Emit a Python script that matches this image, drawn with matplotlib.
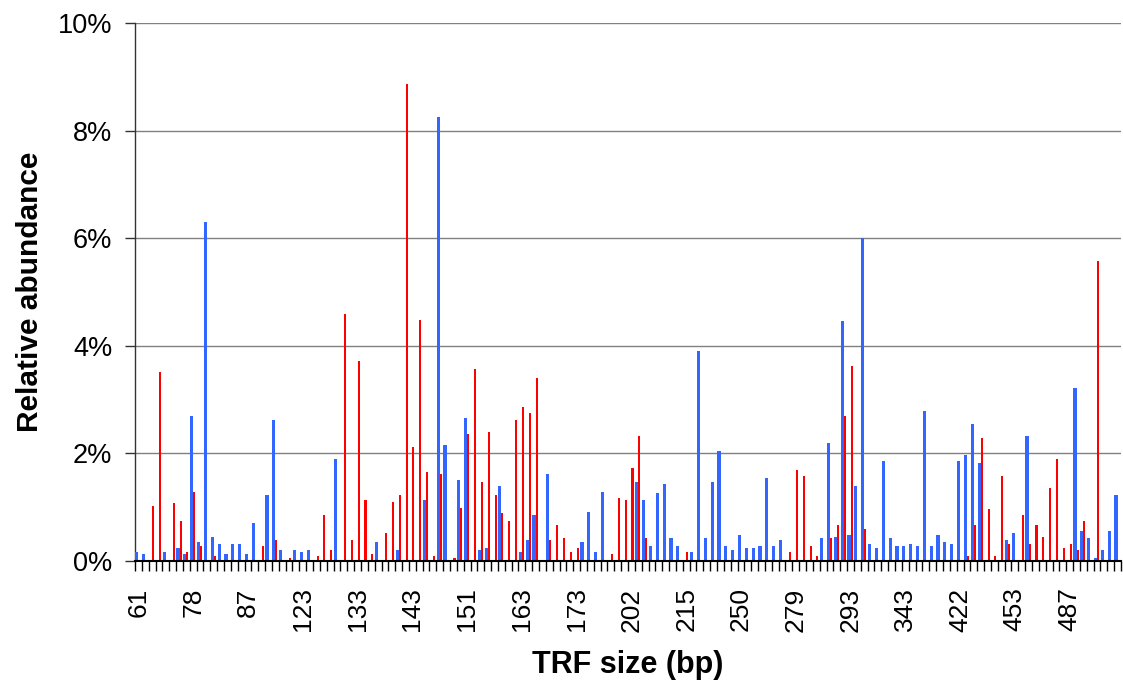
import numpy as np
import matplotlib
matplotlib.use("Agg")
import matplotlib.pyplot as plt
from matplotlib.ticker import FixedLocator, FuncFormatter

plt.rcParams['font.family'] = ['Liberation Sans', 'DejaVu Sans']

# Relative abundance (%) per TRF category (144 categories)
series_blue = [
    0.17, 0.13, 0, 0, 0.17, 0, 0.24, 0.13,
    2.7, 0.36, 6.3, 0.45, 0.32, 0.13, 0.32, 0.32,
    0.13, 0.71, 0, 1.22, 2.625, 0.21, 0, 0.21,
    0.17, 0.21, 0, 0, 0, 1.89, 0, 0,
    0, 0, 0, 0.36, 0, 0, 0.21, 0,
    0, 0, 1.14, 0, 8.25, 2.16, 0, 1.5,
    2.66, 0, 0.21, 0.24, 0, 1.39, 0, 0,
    0.17, 0.39, 0.86, 0, 1.61, 0, 0, 0,
    0, 0.36, 0.92, 0.17, 1.29, 0, 0, 0,
    0, 1.46, 1.14, 0.28, 1.26, 1.425, 0.43, 0.28,
    0, 0.17, 3.9, 0.43, 1.46, 2.04, 0.28, 0.21,
    0.49, 0.24, 0.24, 0.28, 1.54, 0.28, 0.39, 0,
    0, 0, 0, 0, 0.43, 2.19, 0.45, 4.47,
    0.49, 1.39, 6.0, 0.32, 0.24, 1.86, 0.43, 0.28,
    0.28, 0.32, 0.28, 2.79, 0.28, 0.49, 0.36, 0.32,
    1.86, 1.97, 2.55, 1.82, 0, 0, 0, 0.39,
    0.525, 0, 2.325, 0, 0, 0, 0, 0,
    0, 3.22, 0.56, 0.43, 0.06, 0.21, 0.56, 1.22,
]

series_red = [
    0, 0, 1.03, 3.52, 0, 1.07, 0.75, 0.17,
    1.29, 0.28, 0, 0.09, 0, 0, 0, 0,
    0, 0, 0.28, 0, 0.39, 0, 0.06, 0,
    0, 0, 0.09, 0.86, 0.21, 0, 4.6, 0.39,
    3.72, 1.14, 0.13, 0, 0.525, 1.1, 1.22, 8.87,
    2.12, 4.48, 1.65, 0.09, 1.61, 0, 0.06, 0.99,
    2.36, 3.56, 1.46, 2.4, 1.22, 0.9, 0.75, 2.625,
    2.87, 2.76, 3.41, 0, 0.39, 0.675, 0.43, 0.17,
    0.24, 0, 0, 0, 0, 0.13, 1.18, 1.14,
    1.725, 2.325, 0.43, 0, 0, 0, 0, 0,
    0.17, 0, 0, 0, 0, 0, 0, 0,
    0, 0, 0, 0, 0, 0, 0, 0.17,
    1.69, 1.575, 0.28, 0.09, 0, 0.43, 0.675, 2.7,
    3.62, 0, 0.6, 0, 0, 0, 0, 0,
    0, 0, 0, 0, 0, 0, 0, 0,
    0, 0.09, 0.675, 2.29, 0.96, 0.09, 1.575, 0.32,
    0, 0.86, 0.32, 0.675, 0.45, 1.35, 1.89, 0.24,
    0.32, 0.21, 0.75, 0, 5.57, 0, 0, 0,
]

# Tick labels shown every 8th category
tick_labels = ['61', '78', '87', '123', '133', '143', '151', '163', '173',
               '202', '215', '250', '279', '293', '343', '422', '453', '487']
label_step = 8

n = len(series_blue)
x = np.arange(n)

W, H = 1123, 686
fig = plt.figure(figsize=(W / 100, H / 100), dpi=100)
ax = fig.add_axes([135 / W, 1 - 561 / H, 986 / W, 538 / H])

blue = '#3366FF'
red = '#FF0000'
ax.bar(x - 0.22, series_blue, width=0.46, color=blue, linewidth=0, zorder=3)
ax.bar(x + 0.16, series_red, width=0.3, color=red, linewidth=0, zorder=3)

ax.set_xlim(-0.5, n - 0.5)
ax.set_ylim(0, 10)

# y axis
ax.set_yticks(np.arange(0, 10.1, 2))
ax.yaxis.set_major_formatter(FuncFormatter(lambda v, p: f"{int(round(v))}%"))
ax.tick_params(axis='y', direction='out', length=7.2, width=1.0, color='#333333',
               labelsize=19.5, pad=9)
ax.yaxis.grid(True, color='#808080', linewidth=1.0, zorder=0)
ax.set_axisbelow(True)

# x axis
ax.xaxis.set_major_locator(FixedLocator(x[::label_step][:len(tick_labels)]))
ax.set_xticklabels(tick_labels, rotation=90, fontsize=19)
ax.xaxis.set_minor_locator(FixedLocator(np.arange(-0.5, n, 1.0)))
ax.tick_params(axis='x', which='major', length=0, pad=19)
ax.tick_params(axis='x', which='minor', direction='out', length=7.2, width=1.0,
               color='black')

for s in ['top', 'right']:
    ax.spines[s].set_visible(False)
ax.spines['left'].set_color('#333333')
ax.spines['left'].set_linewidth(1.0)
ax.spines['bottom'].set_color('black')
ax.spines['bottom'].set_linewidth(1.5)
ax.spines['bottom'].set_zorder(4)

fig.text(30 / W, 1 - 292 / H, 'Relative abundance', rotation=90, ha='center',
         va='center', fontsize=21.5, fontweight='bold')
fig.text(628 / W, 1 - 665 / H, 'TRF size (bp)', ha='center', va='center',
         fontsize=22, fontweight='bold')

fig.savefig('out.png', dpi=100)
